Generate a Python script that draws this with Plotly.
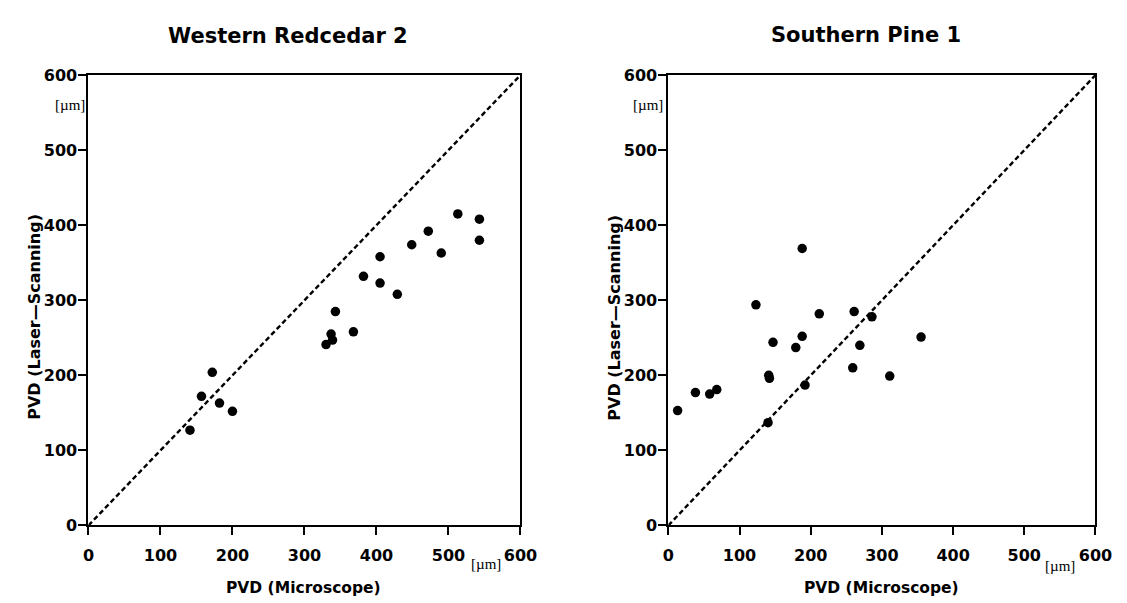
import plotly.graph_objects as go

W, H = 1127, 603

# Western Redcedar 2
wr_x = [141, 157, 172, 182, 200, 330, 337, 339, 343, 368, 382, 405, 405, 429, 449, 472, 490, 513, 543, 543]
wr_y = [127, 172, 204, 163, 152, 241, 255, 247, 285, 258, 332, 323, 358, 308, 374, 392, 363, 415, 408, 380]

# Southern Pine 1
sp_x = [13, 38, 58, 68, 123, 141, 142, 140, 147, 179, 188, 188, 192, 212, 259, 261, 269, 286, 311, 355]
sp_y = [153, 177, 175, 181, 294, 200, 196, 137, 244, 237, 369, 252, 187, 282, 210, 285, 240, 278, 199, 251]

diag = [0, 600]
ticks = [0, 100, 200, 300, 400, 500, 600]
tick_text = ["0", "100", "200", "300", "400", "500", "600"]

titles = ["Western Redcedar 2", "Southern Pine 1"]
x_title = "PVD (Microscope)"
y_title = "PVD (Laser—Scanning)"
unit = "[µm]"

FONT = "DejaVu Sans"

fig = go.Figure()

for i, (xs, ys) in enumerate([(wr_x, wr_y), (sp_x, sp_y)]):
    xa = "x" if i == 0 else "x2"
    ya = "y" if i == 0 else "y2"
    fig.add_trace(go.Scatter(x=diag, y=diag, mode="lines", xaxis=xa, yaxis=ya,
                             line=dict(color="black", width=2.4, dash="5px,3px"),
                             hoverinfo="skip", showlegend=False))
    fig.add_trace(go.Scatter(x=xs, y=ys, mode="markers", xaxis=xa, yaxis=ya,
                             marker=dict(color="black", size=9.5),
                             showlegend=False))

def px2x(p):
    return p / W

def px2y(p):
    return 1 - p / H

y_dom = [px2y(525), px2y(60)]
x_doms = [[px2x(76), px2x(517)], [px2x(668), px2x(1104)]]

axis_common = dict(
    range=[0, 600], tickmode="array", tickvals=ticks, ticktext=tick_text,
    showgrid=False, zeroline=False, showline=True, linecolor="black", linewidth=2,
    mirror=True, ticks="outside", ticklen=8, tickwidth=2, tickcolor="black",
    tickfont=dict(family=FONT, size=16, color="black", weight="bold"),
)

fig.update_layout(
    xaxis=dict(domain=x_doms[0], anchor="y", ticklabelstandoff=6, **axis_common),
    yaxis=dict(domain=y_dom, anchor="x", ticklabelstandoff=-2, **axis_common),
    xaxis2=dict(domain=x_doms[1], anchor="y2", ticklabelstandoff=6, **axis_common),
    yaxis2=dict(domain=y_dom, anchor="x2", ticklabelstandoff=-2, **axis_common),
)

annots = []
title_pos = [(280, 20), (870, 19)]
xt_pos = [(296, 590), (886, 590)]
yt_pos = [(21, 310), (613, 310)]
yu_pos = [(75, 91), (665, 91)]
xu_pos = [(482, 565), (1068, 567)]
for i in range(2):
    annots.append(dict(text=titles[i], x=px2x(title_pos[i][0]), y=px2y(title_pos[i][1]),
                       xref="paper", yref="paper", showarrow=False,
                       xanchor="center", yanchor="middle",
                       font=dict(family=FONT, size=21, color="black", weight="bold")))
    annots.append(dict(text=x_title, x=px2x(xt_pos[i][0]), y=px2y(xt_pos[i][1]),
                       xref="paper", yref="paper", showarrow=False,
                       xanchor="center", yanchor="middle",
                       font=dict(family=FONT, size=15.5, color="black", weight="bold")))
    annots.append(dict(text=y_title, x=px2x(yt_pos[i][0]), y=px2y(yt_pos[i][1]),
                       xref="paper", yref="paper", showarrow=False, textangle=-90,
                       xanchor="center", yanchor="middle",
                       font=dict(family=FONT, size=16, color="black", weight="bold")))
    annots.append(dict(text=unit, x=px2x(yu_pos[i][0]), y=px2y(yu_pos[i][1]),
                       xref="paper", yref="paper", showarrow=False,
                       xanchor="right", yanchor="middle",
                       font=dict(family="Liberation Serif", size=15, color="black")))
    annots.append(dict(text=unit, x=px2x(xu_pos[i][0]), y=px2y(xu_pos[i][1]),
                       xref="paper", yref="paper", showarrow=False,
                       xanchor="center", yanchor="middle",
                       font=dict(family="Liberation Serif", size=15, color="black")))

fig.update_layout(
    width=W, height=H, autosize=False,
    margin=dict(l=0, r=0, t=0, b=0),
    paper_bgcolor="white", plot_bgcolor="white",
    annotations=annots,
    showlegend=False,
)

fig.write_html("out.html")
